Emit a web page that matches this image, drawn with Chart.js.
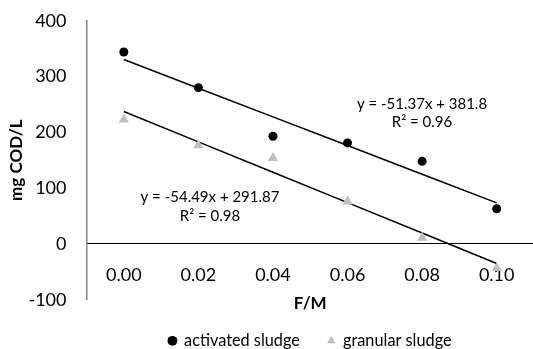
<!DOCTYPE html>
<html><head><meta charset="utf-8">
<script src="https://cdn.jsdelivr.net/npm/chart.js@4.4.0/dist/chart.umd.min.js"></script>
<style>
html,body{margin:0;padding:0;overflow:hidden;background:#fff;width:533px;height:349px}
#wrap{position:absolute;left:0;top:0;width:540px;height:359px}
</style>
</head><body><div id="wrap"><canvas id="c"></canvas></div>
<script>
const categories = ['0.00', '0.02', '0.04', '0.06', '0.08', '0.10'];
const activatedSludge = [344, 280, 193, 181, 148, 63];
const granularSludge = [223, 177, 154, 76, 11, -43];
const yTickValues = [-100, 0, 100, 200, 300, 400];
const trendActivated = [-51.37, 381.8, 0.96];   // slope, intercept, R²
const trendGranular = [-54.49, 291.87, 0.98];

const FONT = 'Lato, "Open Sans", sans-serif';

function trendValues(t) {
  return categories.map((_, i) => t[1] + t[0] * (i + 1));
}
function eqText(t) {
  return 'y = ' + t[0] + 'x + ' + t[1];
}
function r2Text(t) {
  return 'R\u00B2 = ' + t[2].toFixed(2);
}

const trendLabels = {
  id: 'trendLabels',
  afterDatasetsDraw(chart) {
    const ctx = chart.ctx;
    ctx.save();
    ctx.fillStyle = '#000';
    ctx.font = '15px ' + FONT;
    ctx.textAlign = 'center';
    ctx.textBaseline = 'middle';
    ctx.fillText(eqText(trendActivated), 422, 104);
    ctx.fillText(r2Text(trendActivated), 422, 122);
    ctx.fillText(eqText(trendGranular), 210, 197);
    ctx.fillText(r2Text(trendGranular), 210, 216);
    ctx.restore();
  }
};

new Chart(document.getElementById('c'), {
  type: 'line',
  data: {
    labels: categories,
    datasets: [
      {
        label: 'activated sludge',
        data: activatedSludge,
        showLine: false,
        pointStyle: 'circle',
        pointRadius: 4.5,
        pointHoverRadius: 4.5,
        pointBackgroundColor: '#000',
        pointBorderColor: '#000',
        pointBorderWidth: 0,
        backgroundColor: '#000',
        borderColor: '#000'
      },
      {
        label: 'granular sludge',
        data: granularSludge,
        showLine: false,
        pointStyle: 'triangle',
        pointRadius: 6,
        pointHoverRadius: 6,
        pointBackgroundColor: '#BFBFBF',
        pointBorderColor: '#BFBFBF',
        pointBorderWidth: 0,
        backgroundColor: '#BFBFBF',
        borderColor: '#BFBFBF'
      },
      {
        label: 'trend activated',
        data: trendValues(trendActivated),
        borderColor: '#000',
        borderWidth: 1.5,
        pointRadius: 0,
        fill: false,
        tension: 0
      },
      {
        label: 'trend granular',
        data: trendValues(trendGranular),
        borderColor: '#000',
        borderWidth: 1.5,
        pointRadius: 0,
        fill: false,
        tension: 0
      }
    ]
  },
  options: {
    responsive: true,
    maintainAspectRatio: false,
    animation: false,
    events: [],
    layout: { padding: { left: 6, top: 20.7, right: 3, bottom: 0 } },
    plugins: {
      tooltip: { enabled: false },
      legend: {
        position: 'bottom',
        fullSize: false,
        title: { display: true, text: '', padding: 0, font: { family: FONT, size: 5, lineHeight: 1 } },
        labels: {
          usePointStyle: true,
          boxWidth: 7,
          boxHeight: 7,
          padding: 28,
          color: '#000',
          font: { family: FONT, size: 16.3 },
          filter: (item) => item.datasetIndex < 2
        }
      }
    },
    scales: {
      x: {
        type: 'category',
        position: { y: 0 },
        offset: true,
        afterFit(scale) { scale.paddingLeft = 0; scale.paddingRight = 0; },
        grid: { display: false, drawTicks: false },
        border: { display: true, color: '#000', width: 1 },
        ticks: { color: '#000', font: { family: FONT, size: 18 }, padding: 20, maxRotation: 0 },
        title: { display: true, text: 'F/M', color: '#000', font: { family: FONT, size: 17, weight: 'bold' }, padding: { top: -12, bottom: 0 } }
      },
      y: {
        min: -100,
        max: 400,
        afterBuildTicks(scale) { scale.ticks = yTickValues.map(v => ({ value: v })); },
        afterFit(scale) { scale.width = 80.5; scale.paddingTop = 10; scale.paddingBottom = 10; },
        grid: { display: false, drawTicks: false },
        border: { display: true, color: '#868686', width: 1.5 },
        ticks: { color: '#000', font: { family: FONT, size: 18 }, padding: 20 },
        title: { display: true, text: 'mg COD/L', color: '#000', font: { family: FONT, size: 17, weight: 'bold' }, padding: { top: 0, bottom: 0 } }
      }
    }
  },
  plugins: [trendLabels]
});
</script>
</body></html>
